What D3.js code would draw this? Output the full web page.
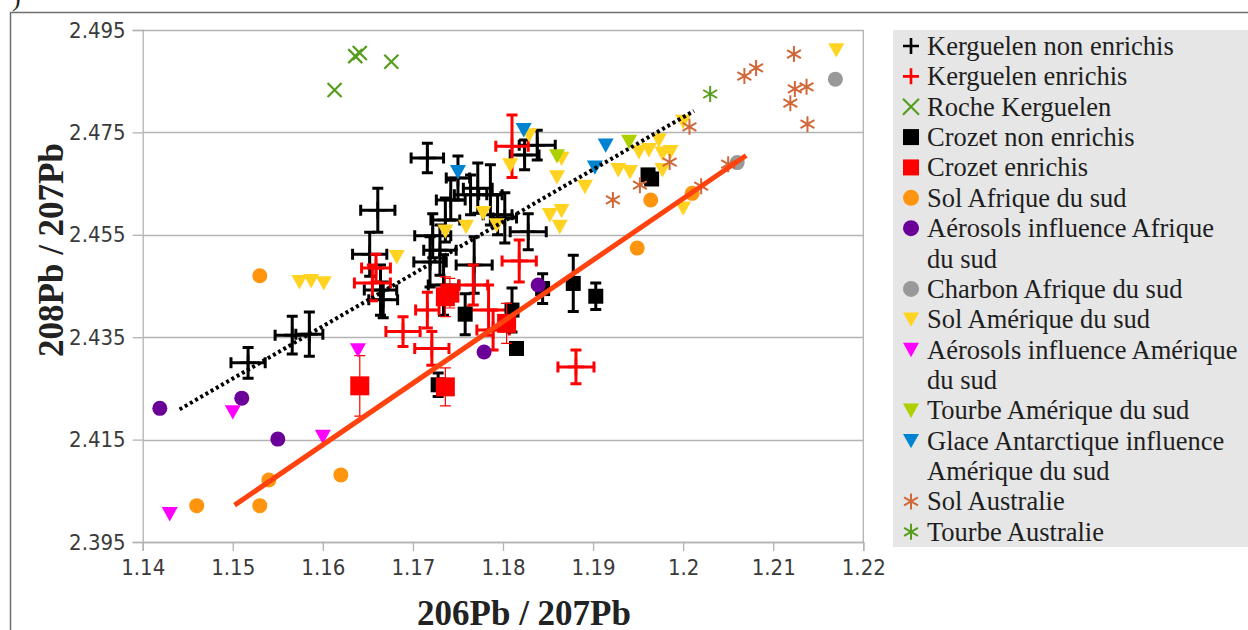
<!DOCTYPE html>
<html>
<head>
<meta charset="utf-8">
<script src="https://cdn.jsdelivr.net/npm/d3@7"></script>
<style>
  body { margin: 0; background: #fff; }
  svg { display: block; }
</style>
</head>
<body>
<svg id="chart" width="1248" height="630"></svg>
<script>
// ---- data ----
const xTicks = [1.14, 1.15, 1.16, 1.17, 1.18, 1.19, 1.2, 1.21, 1.22];
const xTickLabels = ["1.14", "1.15", "1.16", "1.17", "1.18", "1.19", "1.2", "1.21", "1.22"];
const yTicks = [2.395, 2.415, 2.435, 2.455, 2.475, 2.495];

// Kerguelen non enrichis (x, y, x error, y error)
const kergNonX = [1.1517, 1.1566, 1.1585, 1.1652, 1.1661, 1.1664, 1.1667, 1.1716, 1.1722, 1.1730, 1.1719, 1.1736, 1.1742, 1.1750, 1.1764, 1.1772, 1.1786, 1.1768, 1.1794, 1.1802, 1.1828, 1.1824, 1.1838, 1.1734];
const kergNonY = [2.4300, 2.4354, 2.4356, 2.4512, 2.4598, 2.4442, 2.4423, 2.4700, 2.4548, 2.4520, 2.4497, 2.4579, 2.4618, 2.4661, 2.4628, 2.4641, 2.4628, 2.4491, 2.4589, 2.4583, 2.4556, 2.4706, 2.4725, 2.4452];
const kergNonXErr = [0.0019, 0.0019, 0.0015, 0.0019, 0.0019, 0.0018, 0.0016, 0.0018, 0.0020, 0.0018, 0.0018, 0.0016, 0.0016, 0.0013, 0.0018, 0.0016, 0.0013, 0.0020, 0.0016, 0.0013, 0.0020, 0.0016, 0.0020, 0.0017];
const kergNonYErr = [0.0030, 0.0037, 0.0043, 0.0043, 0.0043, 0.0049, 0.0035, 0.0029, 0.0043, 0.0049, 0.0049, 0.0043, 0.0039, 0.0043, 0.0039, 0.0049, 0.0059, 0.0055, 0.0039, 0.0049, 0.0035, 0.0029, 0.0029, 0.0059];

// Kerguelen enrichis
const kergEnrX = [1.1810, 1.1818, 1.1689, 1.1721, 1.1784, 1.1789, 1.1881, 1.1655, 1.1659, 1.1767, 1.1716];
const kergEnrY = [2.4723, 2.4499, 2.4361, 2.4328, 2.4403, 2.4364, 2.4292, 2.4456, 2.4485, 2.4452, 2.4403];
const kergEnrXErr = [0.0018, 0.0019, 0.0019, 0.0019, 0.0022, 0.0018, 0.0020, 0.0020, 0.0016, 0.0016, 0.0013];
const kergEnrYErr = [0.0061, 0.0041, 0.0029, 0.0033, 0.0049, 0.0039, 0.0033, 0.0035, 0.0027, 0.0039, 0.0035];

// Roche Kerguelen
const rocheX = [1.1613, 1.1636, 1.1641, 1.1676];
const rocheY = [2.4833, 2.4899, 2.4905, 2.4888];

// Crozet non enrichis
const crozNonX = [1.1961, 1.1965, 1.1903, 1.1878, 1.1844, 1.1815, 1.1758, 1.1810, 1.1728];
const crozNonY = [2.4667, 2.4659, 2.4430, 2.4455, 2.4445, 2.4328, 2.4395, 2.4403, 2.4257];
const crozNonYErr = [0, 0, 0.0026, 0.0055, 0.0029, 0, 0.0040, 0.0043, 0.0023];

// Crozet enrichis
const crozEnrX = [1.1641, 1.1736, 1.1736, 1.1741, 1.1804];
const crozEnrY = [2.4255, 2.4253, 2.4429, 2.4436, 2.4377];
const crozEnrYErr = [0.0059, 0.0037, 0.0039, 0.0029, 0.0039];

// Sol Afrique du sud
const solAfrX = [1.1530, 1.1460, 1.1530, 1.1540, 1.1620, 1.1964, 1.1949, 1.2010];
const solAfrY = [2.4470, 2.4021, 2.4021, 2.4071, 2.4081, 2.4618, 2.4524, 2.4631];

// Aérosols influence Afrique du sud
const aerAfrX = [1.1419, 1.1510, 1.1550, 1.1839, 1.1779];
const aerAfrY = [2.4211, 2.4231, 2.4151, 2.4452, 2.4321];

// Charbon Afrique du sud
const charbonX = [1.2169, 1.2060];
const charbonY = [2.4854, 2.4691];

// Sol Amérique du sud
const solAmX = [1.2170, 1.2000, 1.1891, 1.1928, 1.1941, 1.1951, 1.1962, 1.1973, 1.1977, 1.1986, 1.1977, 1.2000, 1.1829, 1.1808, 1.1865, 1.1860, 1.1852, 1.1865, 1.1863, 1.1682, 1.1759, 1.1778, 1.1736, 1.1574, 1.1587, 1.1601, 1.1793];
const solAmY = [2.4911, 2.4771, 2.4644, 2.4677, 2.4673, 2.4712, 2.4716, 2.4735, 2.4709, 2.4712, 2.4677, 2.4602, 2.4745, 2.4686, 2.4699, 2.4663, 2.4589, 2.4597, 2.4566, 2.4507, 2.4566, 2.4593, 2.4557, 2.4458, 2.4460, 2.4456, 2.4569];

// Aérosols influence Amérique du sud
const aerAmX = [1.1430, 1.1500, 1.1600, 1.1639];
const aerAmY = [2.4005, 2.4204, 2.4156, 2.4325];

// Tourbe Amérique du sud
const tourbeAmX = [1.1940, 1.1860];
const tourbeAmY = [2.4732, 2.4704];

// Glace Antarctique influence Amérique du sud
const glaceX = [1.1823, 1.1750, 1.1914, 1.1902];
const glaceY = [2.4755, 2.4673, 2.4725, 2.4682];

// Sol Australie
const solAusX = [1.2123, 1.2081, 1.2068, 1.2124, 1.2137, 1.2119, 1.2138, 1.2007, 1.1985, 1.2050, 1.2020, 1.1922, 1.1952];
const solAusY = [2.4903, 2.4876, 2.4860, 2.4835, 2.4839, 2.4807, 2.4766, 2.4761, 2.4692, 2.4688, 2.4645, 2.4618, 2.4647];

// Tourbe Australie
const tourbeAusX = [1.2030];
const tourbeAusY = [2.4825];

// trend lines [x0, y0, x1, y1]
const trendDotted = [1.1441, 2.4209, 1.2012, 2.4792];
const trendSolid = [1.1502, 2.4022, 1.2070, 2.4705];

const legendLines = [
  ["Kerguelen non enrichis"], ["Kerguelen enrichis"], ["Roche Kerguelen"],
  ["Crozet non enrichis"], ["Crozet enrichis"], ["Sol Afrique du sud"],
  ["Aérosols influence Afrique", "du sud"], ["Charbon Afrique du sud"],
  ["Sol Amérique du sud"], ["Aérosols influence Amérique", "du sud"],
  ["Tourbe Amérique du sud"], ["Glace Antarctique influence", "Amérique du sud"],
  ["Sol Australie"], ["Tourbe Australie"]
];

// ---- chart ----
const svg = d3.select("#chart");
const pLeft = 142.7, pRight = 863.3, pTop = 30, pBottom = 542;

const x = d3.scaleLinear().domain([1.14, 1.22]).range([pLeft, pRight]);
const y = d3.scaleLinear().domain([2.395, 2.495]).range([pBottom, pTop]);

// outer frame
svg.append("path")
  .attr("d", "M10.5,630 V12.5 H1248")
  .attr("fill", "none").attr("stroke", "#6e6e6e").attr("stroke-width", 1.5);
svg.append("text").attr("x", 12).attr("y", 6)
  .style("font-family", "'Liberation Serif', serif").style("font-size", "26px")
  .attr("fill", "#222").text(")");

// gridlines
svg.append("g").selectAll("line").data(yTicks).enter().append("line")
  .attr("x1", pLeft).attr("x2", pRight)
  .attr("y1", d => Math.round(y(d)) + 0.5).attr("y2", d => Math.round(y(d)) + 0.5)
  .attr("stroke", "#b3b3b3").attr("stroke-width", 1.3);

svg.append("line")
  .attr("x1", pRight).attr("x2", pRight).attr("y1", pTop).attr("y2", pBottom)
  .attr("stroke", "#b3b3b3").attr("stroke-width", 1.3);

// axes
const tickFont = "'Liberation Sans Narrow', 'DejaVu Sans Condensed', sans-serif";
let yAxis = svg.append("g")
  .attr("transform", "translate(" + pLeft + ",0)")
  .call(d3.axisLeft(y).tickValues(yTicks).tickSize(10).tickPadding(7).tickFormat(d3.format(".3f")));
let xAxis = svg.append("g")
  .attr("transform", "translate(0," + pBottom + ")")
  .call(d3.axisBottom(x).tickValues(xTicks).tickSize(9).tickPadding(8).tickFormat((d, i) => xTickLabels[i]));

[xAxis, yAxis].forEach(function (a) {
  a.select(".domain").attr("stroke", "#b3b3b3").attr("stroke-width", 1.3);
  a.selectAll(".tick line").attr("stroke", "#b3b3b3").attr("stroke-width", 1.3);
  a.selectAll(".tick text")
    .style("font-family", tickFont).style("font-size", "22px").attr("fill", "#3a3a3a");
});

// axis titles
svg.append("text")
  .attr("x", 524).attr("y", 625).attr("text-anchor", "middle")
  .style("font-family", "'Liberation Serif', serif").style("font-weight", "bold").style("font-size", "35px")
  .attr("fill", "#222").text("206Pb / 207Pb");
svg.append("text")
  .attr("transform", "translate(63,250) rotate(-90)").attr("text-anchor", "middle")
  .style("font-family", "'Liberation Serif', serif").style("font-weight", "bold").style("font-size", "35px")
  .attr("fill", "#222").text("208Pb / 207Pb");

// ---- symbols ----
function symbolPath(type, s) {
  let h = s / 2;
  if (type === "plus") return "M" + (-h) + ",0H" + h + "M0," + (-h) + "V" + h;
  if (type === "cross") return "M" + (-h) + "," + (-h) + "L" + h + "," + h + "M" + (-h) + "," + h + "L" + h + "," + (-h);
  if (type === "square") return "M" + (-h) + "," + (-h) + "H" + h + "V" + h + "H" + (-h) + "Z";
  if (type === "tri") return "M" + (-h) + "," + (-h * 0.85) + "H" + h + "L0," + (h * 0.95) + "Z";
  if (type === "star") {
    let c = Math.cos(Math.PI / 6) * h, sn = Math.sin(Math.PI / 6) * h;
    return "M0," + (-h) + "V" + h + "M" + (-c) + "," + (-sn) + "L" + c + "," + sn + "M" + (-c) + "," + sn + "L" + c + "," + (-sn);
  }
  return "";
}
function isStroke(type) { return type === "plus" || type === "cross" || type === "star"; }

const series = [
  { xs: kergNonX, ys: kergNonY, xe: kergNonXErr, ye: kergNonYErr, type: "plus", color: "#000000", size: 17, sw: 2.6, ew: 3, cap: 11 },
  { xs: kergEnrX, ys: kergEnrY, xe: kergEnrXErr, ye: kergEnrYErr, type: "plus", color: "#ff0000", size: 17, sw: 2.6, ew: 3, cap: 11 },
  { xs: rocheX, ys: rocheY, type: "cross", color: "#579d1c", size: 14, sw: 2.2 },
  { xs: crozNonX, ys: crozNonY, ye: crozNonYErr, type: "square", color: "#000000", size: 15, ew: 3, cap: 11 },
  { xs: crozEnrX, ys: crozEnrY, ye: crozEnrYErr, type: "square", color: "#ff0000", size: 19, ew: 1.2, cap: 11 },
  { xs: solAfrX, ys: solAfrY, type: "circle", color: "#ff950e", size: 15 },
  { xs: aerAfrX, ys: aerAfrY, type: "circle", color: "#6b0099", size: 15 },
  { xs: charbonX, ys: charbonY, type: "circle", color: "#999999", size: 15 },
  { xs: solAmX, ys: solAmY, type: "tri", color: "#ffd320", size: 16 },
  { xs: aerAmX, ys: aerAmY, type: "tri", color: "#ff00ff", size: 16 },
  { xs: tourbeAmX, ys: tourbeAmY, type: "tri", color: "#aecf00", size: 16 },
  { xs: glaceX, ys: glaceY, type: "tri", color: "#0084d1", size: 16 },
  { xs: solAusX, ys: solAusY, type: "star", color: "#d0683a", size: 16, sw: 2 },
  { xs: tourbeAusX, ys: tourbeAusY, type: "star", color: "#579d1c", size: 16, sw: 2 }
];

function drawMarker(g, s, px, py, size) {
  if (s.type === "circle") {
    g.append("circle").attr("cx", px).attr("cy", py).attr("r", size / 2).attr("fill", s.color);
  } else {
    let p = g.append("path").attr("transform", "translate(" + px + "," + py + ")")
      .attr("d", symbolPath(s.type, size));
    if (isStroke(s.type)) p.attr("fill", "none").attr("stroke", s.color).attr("stroke-width", s.sw);
    else p.attr("fill", s.color);
  }
}

const plot = svg.append("g");
series.forEach(function (s) {
  let g = plot.append("g");
  let pts = s.xs.map((v, i) => i);
  // error bars
  let eb = g.append("g").attr("stroke", s.color).attr("stroke-width", s.ew || 1).attr("fill", "none");
  pts.forEach(function (i) {
    let cx = x(s.xs[i]), cy = y(s.ys[i]);
    if (s.ye && s.ye[i] > 0) {
      let y0 = y(s.ys[i] - s.ye[i]), y1 = y(s.ys[i] + s.ye[i]);
      eb.append("path").attr("d", "M" + cx + "," + y0 + "V" + y1 +
        "M" + (cx - s.cap / 2) + "," + y0 + "H" + (cx + s.cap / 2) +
        "M" + (cx - s.cap / 2) + "," + y1 + "H" + (cx + s.cap / 2));
    }
    if (s.xe && s.xe[i] > 0) {
      let x0 = x(s.xs[i] - s.xe[i]), x1 = x(s.xs[i] + s.xe[i]);
      eb.append("path").attr("d", "M" + x0 + "," + cy + "H" + x1 +
        "M" + x0 + "," + (cy - s.cap / 2) + "V" + (cy + s.cap / 2) +
        "M" + x1 + "," + (cy - s.cap / 2) + "V" + (cy + s.cap / 2));
    }
  });
  pts.forEach(i => drawMarker(g, s, x(s.xs[i]), y(s.ys[i]), s.size));
});

// trend lines
plot.append("line")
  .attr("x1", x(trendDotted[0])).attr("y1", y(trendDotted[1]))
  .attr("x2", x(trendDotted[2])).attr("y2", y(trendDotted[3]))
  .attr("stroke", "#000").attr("stroke-width", 4).attr("stroke-dasharray", "3,3");
plot.append("line")
  .attr("x1", x(trendSolid[0])).attr("y1", y(trendSolid[1]))
  .attr("x2", x(trendSolid[2])).attr("y2", y(trendSolid[3]))
  .attr("stroke", "#ff420e").attr("stroke-width", 5);

// ---- legend ----
const legend = svg.append("g");
legend.append("rect").attr("x", 893).attr("y", 30).attr("width", 355).attr("height", 517).attr("fill", "#e6e6e6");

let lineIdx = 0;
const lineStep = 30.36, firstBase = 55;
legendLines.forEach(function (lines, k) {
  let s = series[k];
  let base = firstBase + lineIdx * lineStep;
  drawMarker(legend, s, 911, base - 9, 16);
  lines.forEach(function (t, j) {
    legend.append("text")
      .attr("x", 927).attr("y", firstBase + (lineIdx + j) * lineStep)
      .style("font-family", "'Liberation Serif', serif").style("font-size", "26.5px")
      .attr("fill", "#1e1e1e").text(t);
  });
  lineIdx += lines.length;
});
</script>
</body>
</html>
